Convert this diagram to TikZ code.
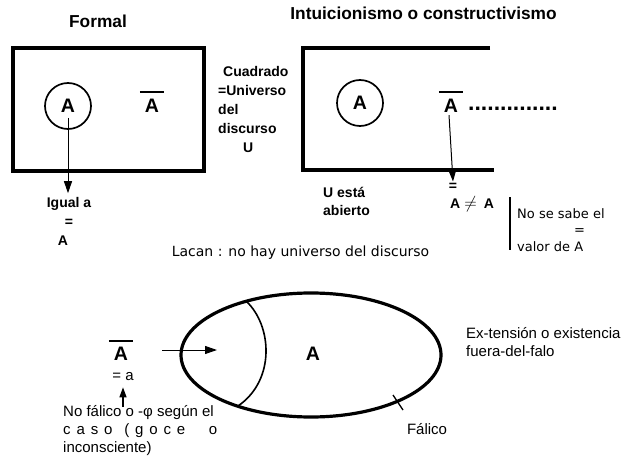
\documentclass[tikz,border=0pt]{standalone}
\usepackage{fontspec}
\setmainfont{Liberation Sans}
\newfontfamily\lucida{DejaVu Sans}
\usetikzlibrary{arrows.meta, positioning}

% A con barra encima
\newcommand{\Abarra}[1][6pt]{\vbox{\hrule height 1.8pt\kern #1\hbox{\kern 5pt A\kern 5pt}}}

\tikzset{
  marco/.style={line width=3.2pt},
  circulo/.style={draw, circle, line width=1.7pt, minimum size=46pt, inner sep=0pt, font=\bfseries\fontsize{19.5}{19.5}\selectfont},
  letra/.style={inner sep=0pt, font=\bfseries\fontsize{19.5}{19.5}\selectfont},
  titulo/.style={inner sep=0pt, font=\bfseries\fontsize{17.3}{20}\selectfont},
  negrita/.style={inner sep=0pt, align=left, font=\bfseries\fontsize{14}{19}\selectfont},
  normal/.style={inner sep=0pt, align=left, font=\fontsize{15}{18.3}\selectfont},
  fina/.style={inner sep=0pt, align=left, font=\lucida\fontsize{13}{16.5}\selectfont},
  flecha/.style={line width=1pt, -{Triangle[length=12pt,width=8pt]}},
  flechaChica/.style={line width=1.3pt, -{Triangle[length=10pt,width=7pt]}}
}

\begin{document}
\begin{tikzpicture}[x=1pt, y=-1pt]
    \useasboundingbox (0,0) rectangle (623,457);
    % Formal
    \node[titulo] (formal) at (98,21) {Formal};
    \draw[marco] (13,48) rectangle (204,171);
    \node[circulo] (cA) at (68,106) {A};
    \node[letra, anchor=base] (abarA) at (152,113) {\Abarra[6.5pt]};
    \node[negrita, align=center] (igual) at (69,221.5) {Igual a\\=\hspace*{12pt}\\A\hspace*{12pt}};
    \draw[flecha] ([yshift=-12pt]cA.center) -- ([yshift=4pt]igual.north -| cA.center);
    \node[negrita, anchor=west] (cuadrado) at (218,109)
        {\hspace*{5pt}Cuadrado\\=Universo\\del\\discurso\\\hspace*{25pt}U};

    % Intuicionismo o constructivismo
    \node[titulo] (intuicion) at (423.5,13) {Intuicionismo o constructivismo};
    \draw[marco] (490,48) -- (303,48) -- (303,170) -- (494,170);
    \node[circulo] (cA2) at (360,103) {A};
    \node[letra, anchor=base] (abarA2) at (451,113) {\Abarra[6.5pt]};
    \node[anchor=base west, inner sep=0pt, font=\bfseries\fontsize{23}{23}\selectfont] (puntos) at (468,111) {..............};
    \node[negrita, anchor=base] (igual2) at (453,190) {=};
    \draw[flecha] ([xshift=-2pt, yshift=-2pt]abarA2.south) -- ([yshift=1pt]igual2.north);
    \node[negrita, anchor=base west] (distinto) at (450,208)
        {A\hspace{4pt}{\fontsize{19}{19}\selectfont$\neq$}\hspace{7pt}A};
    \node[negrita, anchor=west, font=\bfseries\fontsize{14}{18}\selectfont] (abierto) at (323,201) {U está\\abierto};
    \draw[line width=1.3pt] (510,197) -- (510,250);
    \node[fina, anchor=west] (nosabe) at (517,230) {No se sabe el\\\hspace*{57pt}=\\valor de A};

    % Lacan
    \node[inner sep=0pt, anchor=base, font=\lucida\fontsize{14}{16}\selectfont] (lacan) at (300.5,256)
        {Lacan : no hay universo del discurso};
    \draw[marco] (311,355) ellipse [x radius=130, y radius=62];
    \draw[line width=1.6pt] (246,301) .. controls (272,325) and (276,380) .. (238,406);
    \draw[line width=1.3pt] (393,395) -- (403,410);
    \node[letra] (aElipse) at (313,354) {A};
    \node[letra, anchor=base] (abarB) at (121,360) {\Abarra[5pt]};
    \coordinate (inicio) at (162,350);
    \coordinate (punta) at (217,350);
    \draw[flecha] (inicio) -- (punta);
    \node[normal] (igualA) at (123,377) {= a};
    \coordinate (baseFlecha) at (123,407);
    \draw[flechaChica] (baseFlecha) -- ([yshift=-6pt]igualA.south);
    \node[normal, anchor=west] (nofalico) at (63,430.5)
        {No fálico o -φ según el\\\makebox[154pt][s]{c a s o\ \ ( g o c e\ \ \ \ o}\\inconsciente)};
    \node[normal, anchor=west] (extension) at (466,342) {Ex-tensión o existencia\\fuera-del-falo};
    \node[normal] (falico) at (427,429) {Fálico};
\end{tikzpicture}
\end{document}
